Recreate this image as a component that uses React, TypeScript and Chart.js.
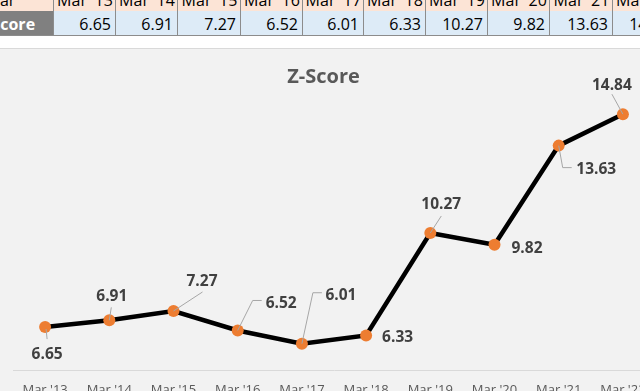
import React, { useEffect, useRef } from "react";
import { Chart, registerables } from "chart.js";

Chart.register(...registerables);

const categories = ["Mar '13", "Mar '14", "Mar '15", "Mar '16", "Mar '17", "Mar '18", "Mar '19", "Mar '20", "Mar '21", "Mar '22"];
const zScores = [6.65, 6.91, 7.27, 6.52, 6.01, 6.33, 10.27, 9.82, 13.63, 14.84];
const headerLabel = "Year";
const rowLabel = "Z-Score";
const chartTitle = "Z-Score";

// label placement relative to each point (style/layout only)
const labelLayout: { dx: number; dy: number; leader: number[][] | null }[] = [
  { dx: 2, dy: 26, leader: [[1, 2], [2, 12]] },
  { dx: 2.5, dy: -25, leader: [[0, 0], [2, -13]] },
  { dx: 28.5, dy: -30.5, leader: [[0, 0], [29, -19]] },
  { dx: 43.5, dy: -27.5, leader: [[0, 0], [15, -30], [24, -30]] },
  { dx: 39, dy: -49.5, leader: [[0, 0], [11, -51], [20, -51]] },
  { dx: 31.5, dy: 1, leader: null },
  { dx: 11, dy: -29, leader: [[0, 0], [11, -17]] },
  { dx: 32.5, dy: 2.5, leader: null },
  { dx: 37.5, dy: 23, leader: [[0, 0], [4, 22], [13, 22]] },
  { dx: -11, dy: -30, leader: [[0, 0], [-11, -20]] },
];

const FONT = "'Open Sans', 'Noto Sans', sans-serif";

const labelPlugin = {
  id: "zLabels",
  afterDatasetsDraw(chart: any) {
    const ctx = chart.ctx;
    const meta = chart.getDatasetMeta(0);
    ctx.save();
    meta.data.forEach((pt: any, i: number) => {
      const x = pt.x;
      const y = pt.y;
      const lay = labelLayout[i];
      if (lay && lay.leader) {
        ctx.beginPath();
        ctx.strokeStyle = "#a6a6a6";
        ctx.lineWidth = 1;
        lay.leader.forEach((p, j) => {
          if (j === 0) ctx.moveTo(x + p[0], y + p[1]);
          else ctx.lineTo(x + p[0], y + p[1]);
        });
        ctx.stroke();
      }
      ctx.font = `bold 15.5px ${FONT}`;
      ctx.fillStyle = "#404040";
      ctx.textAlign = "center";
      ctx.textBaseline = "middle";
      ctx.fillText(zScores[i].toFixed(2), x + (lay ? lay.dx : 0), y + (lay ? lay.dy : 0) + 1);
    });
    ctx.restore();
  },
};

function TopTable() {
  const edges = [53, 115, 177, 240, 302, 363, 425, 487, 549, 612, 674];
  const cells: React.ReactNode[] = [];
  const border = "1px solid #8c8c8c";
  const base: React.CSSProperties = {
    position: "absolute",
    boxSizing: "border-box",
    fontFamily: FONT,
    fontSize: 16,
    lineHeight: "16px",
    whiteSpace: "nowrap",
    overflow: "hidden",
    display: "flex",
    alignItems: "flex-end",
    paddingBottom: 3,
    borderBottom: border,
  };
  cells.push(
    <div key="h0" style={{ ...base, left: -40, width: 93, top: -13, height: 25, background: "#FCE4D6", color: "#000", paddingLeft: 22 }}>
      {headerLabel}
    </div>
  );
  cells.push(
    <div key="v0" style={{ ...base, left: -40, width: 93, top: 11, height: 25, background: "#808080", color: "#fff", fontWeight: "bold", paddingLeft: 17 }}>
      {rowLabel}
    </div>
  );
  categories.forEach((c, i) => {
    const left = edges[i];
    const width = edges[i + 1] - edges[i] + 1;
    cells.push(
      <div key={"h" + (i + 1)} style={{ ...base, left, width, top: -13, height: 25, background: "#FCE4D6", borderLeft: border, color: "#000", justifyContent: "center" }}>
        {c}
      </div>
    );
    cells.push(
      <div key={"v" + (i + 1)} style={{ ...base, left, width, top: 11, height: 25, background: "#DDEBF7", borderLeft: border, color: "#000", justifyContent: "flex-end", paddingRight: 5 }}>
        {zScores[i].toFixed(2)}
      </div>
    );
  });
  return <>{cells}</>;
}

export default function App() {
  const canvasRef = useRef<HTMLCanvasElement | null>(null);

  useEffect(() => {
    if (!canvasRef.current) return;
    const chart = new Chart(canvasRef.current, {
      type: "line",
      data: {
        labels: categories,
        datasets: [
          {
            label: chartTitle,
            data: zScores,
            borderColor: "#000000",
            borderWidth: 4.5,
            backgroundColor: "#ED7D31",
            pointBackgroundColor: "#ED7D31",
            pointBorderWidth: 0,
            pointRadius: 6,
            pointHoverRadius: 6,
            tension: 0,
          },
        ],
      },
      options: {
        responsive: false,
        animation: false,
        layout: { padding: { left: 13, right: 15, top: 35, bottom: 11.4 } },
        plugins: {
          legend: { display: false },
          tooltip: { enabled: false },
          title: { display: false },
        },
        scales: {
          x: {
            type: "category",
            offset: true,
            grid: { display: false, drawTicks: false },
            border: { display: true, color: "#d9d9d9", width: 1 },
            ticks: { color: "#595959", font: { family: FONT, size: 13 }, padding: 12, maxRotation: 0, autoSkip: false },
            afterFit: (scale: any) => {
              scale.height = 27.6;
            },
          },
          y: {
            display: false,
            min: 5,
            max: 16,
          },
        },
      },
      plugins: [labelPlugin],
    });
    return () => chart.destroy();
  }, []);

  return (
    <div style={{ position: "fixed", left: 0, top: 0, width: 640, height: 391, overflow: "hidden", background: "#ffffff" }}>
      <TopTable />
      <div style={{ position: "absolute", left: 0, top: 48, width: 640, height: 343, borderTop: "1px solid #d9d9d9", background: "#f2f2f2", overflow: "hidden" }}>
        <canvas ref={canvasRef} width={670} height={360} style={{ display: "block" }} />
        <div style={{ position: "absolute", left: 0, top: 17, width: 647, textAlign: "center", fontFamily: FONT, fontSize: 20, lineHeight: "20px", fontWeight: "bold", color: "#595959" }}>
          {chartTitle}
        </div>
      </div>
    </div>
  );
}
